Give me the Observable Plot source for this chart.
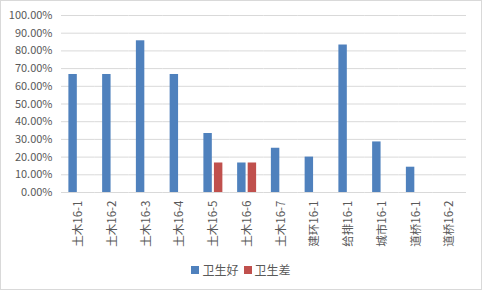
<!DOCTYPE html>
<html>
<head>
<meta charset="utf-8">
<script src="https://cdn.jsdelivr.net/npm/d3@7"></script>
<script src="https://cdn.jsdelivr.net/npm/@observablehq/plot@0.6"></script>
<style>
  body { margin: 0; background: #fff; font-family: "Noto Sans CJK SC", "Noto Sans", sans-serif; }
  #wrap { position: relative; width: 482px; height: 290px; overflow: hidden; }
  #frame { position: absolute; left: 0; top: 0; width: 482px; height: 290px; box-sizing: border-box; border: 1px solid #d9d9d9; pointer-events: none; }
  #chart { position: absolute; left: 0; top: 0; }
  #legend { position: absolute; left: 0; top: 261px; width: 482px; display: flex; justify-content: center; gap: 5px; font-size: 12px; color: #595959; }
  .item { display: flex; align-items: center; gap: 3px; }
  .sw { width: 8px; height: 8px; display: inline-block; }
</style>
</head>
<body>
<div id="wrap">
  <div id="chart"></div>
  <div id="legend"></div>
  <div id="frame"></div>
</div>
<script>
const categories = ["土木16-1","土木16-2","土木16-3","土木16-4","土木16-5","土木16-6","土木16-7","建环16-1","给排16-1","城市16-1","道桥16-1","道桥16-2"];
const seriesNames = ["卫生好","卫生差"];
const goodValues = [0.6667,0.6667,0.8571,0.6667,0.3333,0.1667,0.25,0.20,0.8333,0.2857,0.1429,0];
const badValues  = [0,0,0,0,0.1667,0.1667,0,0,0,0,0,0];
const yTicks = [0,0.1,0.2,0.3,0.4,0.5,0.6,0.7,0.8,0.9,1.0];
const colors = ["#4f81bd","#c0504d"];

const data = [];
categories.forEach((c, i) => {
  data.push({cat: c, series: seriesNames[0], value: goodValues[i]});
  data.push({cat: c, series: seriesNames[1], value: badValues[i]});
});

const pct = d => (d * 100).toFixed(2) + "%";

const plot = Plot.plot({
  width: 482,
  height: 256,
  marginTop: 15,
  marginLeft: 61,
  marginRight: 16,
  marginBottom: 64,
  style: {fontFamily: '"Noto Sans CJK SC", "Noto Sans", sans-serif', color: "#595959", background: "transparent"},
  fx: {domain: categories, padding: 0, round: false, label: null},
  x: {domain: seriesNames, axis: null, paddingInner: 0.2, paddingOuter: 0.7, round: false},
  y: {domain: [0, 1], label: null},
  color: {domain: seriesNames, range: colors},
  marks: [
    Plot.gridY(yTicks, {stroke: "#d9d9d9", strokeOpacity: 1, strokeWidth: 1}),
    Plot.axisY(yTicks, {tickSize: 0, tickPadding: 9, fontSize: 11, tickFormat: pct, label: null}),
    Plot.axisFx({anchor: "bottom", tickRotate: -90, tickSize: 0, tickPadding: 8, fontSize: 11.5, label: null}),
    Plot.barY(data, {fx: "cat", x: "series", y: "value", fill: "series"})
  ]
});
document.getElementById("chart").appendChild(plot);

const legend = document.getElementById("legend");
seriesNames.forEach((s, i) => {
  const it = document.createElement("span");
  it.className = "item";
  const sw = document.createElement("span");
  sw.className = "sw";
  sw.style.background = colors[i];
  const t = document.createElement("span");
  t.textContent = s;
  it.appendChild(sw); it.appendChild(t);
  legend.appendChild(it);
});
</script>
</body>
</html>
